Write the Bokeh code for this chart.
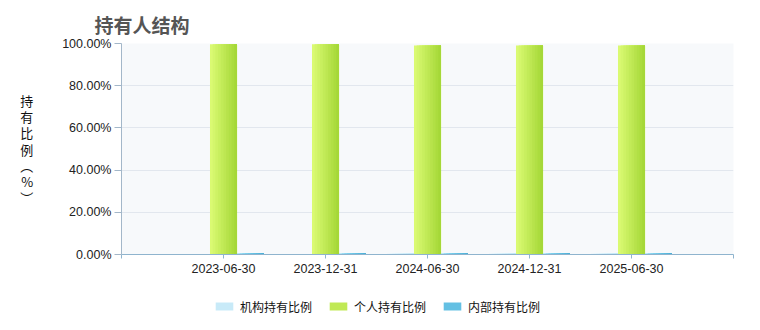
from bokeh.plotting import figure
from bokeh.layouts import column
from bokeh.models import (ColumnDataSource, Legend, LegendItem, FixedTicker,
                          PrintfTickFormatter, Range1d, Title)
from bokeh.embed import file_html
from bokeh.resources import INLINE
import numpy as np

# ---- data ----
dates = ["2023-06-30", "2023-12-31", "2024-06-30", "2024-12-31", "2025-06-30"]
inst_ratio = [0.2, 0.2, 0.4, 0.4, 0.4]          # 机构持有比例
indiv_ratio = [99.6, 99.6, 99.1, 99.1, 99.1]    # 个人持有比例
inner_ratio = [0.5, 0.5, 0.5, 0.5, 0.5]         # 内部持有比例
series_names = ["机构持有比例", "个人持有比例", "内部持有比例"]
y_ticks = [0, 20, 40, 60, 80, 100]

# ---- style ----
BAR_W = 0.265
N_STRIPS = 10
grad = {
    "inst": ("#dcf3fc", "#b3e2f4"),
    "indiv": ("#dafa72", "#a5d838"),
    "inner": ("#82d6f2", "#47abd4"),
}


def hex2rgb(h):
    h = h.lstrip("#")
    return np.array([int(h[i:i + 2], 16) for i in (0, 2, 4)], dtype=float)


def mid_color(colors):
    c = ((hex2rgb(colors[0]) + hex2rgb(colors[1])) / 2).round().astype(int)
    return "#%02x%02x%02x" % tuple(c)


def strip_source(values, offset, colors):
    c0, c1 = hex2rgb(colors[0]), hex2rgb(colors[1])
    left, right, top, bottom, fill = [], [], [], [], []
    xs = np.arange(1, len(values) + 1) + offset
    sw = BAR_W / N_STRIPS
    for xc, v in zip(xs, values):
        for k in range(N_STRIPS):
            t = k / (N_STRIPS - 1)
            c = (c0 * (1 - t) + c1 * t).round().astype(int)
            left.append(xc - BAR_W / 2 + k * sw)
            right.append(xc + BAR_W / 2)
            top.append(v)
            bottom.append(0)
            fill.append("#%02x%02x%02x" % tuple(c))
    return ColumnDataSource(dict(left=left, right=right, top=top, bottom=bottom, fill=fill))


p = figure(width=760, height=284, output_backend="svg", toolbar_location=None,
           x_range=Range1d(0, len(dates) + 1), y_range=Range1d(0, 100),
           min_border_left=121, min_border_right=27, min_border_top=43,
           min_border_bottom=30)
p.border_fill_color = "#ffffff"
p.outline_line_color = None
p.background_fill_color = "#f7f9fb"

keys = ["inst", "indiv", "inner"]
for key, vals, off in zip(keys, (inst_ratio, indiv_ratio, inner_ratio), (-BAR_W, 0.0, BAR_W)):
    src = strip_source(vals, off, grad[key])
    p.quad(left="left", right="right", top="top", bottom="bottom", source=src,
           fill_color="fill", line_color=None)

# title
p.title = Title(text="持有人结构", align="left", offset=-27,
                text_font="Noto Sans CJK SC", text_font_size="19px",
                text_font_style="bold", text_color="#555555", standoff=12)

# axes
tick_font = "Liberation Sans"
p.yaxis.ticker = FixedTicker(ticks=y_ticks)
p.yaxis.formatter = PrintfTickFormatter(format="%.2f%%")
p.yaxis.major_label_text_font = tick_font
p.yaxis.major_label_text_font_size = "12.5px"
p.yaxis.major_label_text_color = "#222222"
p.yaxis.axis_line_color = "#a3b7c9"
p.yaxis.major_tick_line_color = "#a3b7c9"
p.yaxis.major_tick_out = 7
p.yaxis.major_tick_in = 0
p.yaxis.minor_tick_line_color = None
p.yaxis.major_label_standoff = 3
p.yaxis.axis_label = "持\n有\n比\n例\n︵\n%\n︶"
p.yaxis.axis_label_orientation = "horizontal"
p.yaxis.axis_label_text_font = "Noto Sans CJK SC"
p.yaxis.axis_label_text_font_size = "13px"
p.yaxis.axis_label_text_font_style = "normal"
p.yaxis.axis_label_text_color = "#111111"
p.yaxis.axis_label_text_line_height = 0.85
p.yaxis.axis_label_standoff = 26

p.xaxis.ticker = FixedTicker(ticks=list(range(0, len(dates) + 2)))
p.xaxis.major_label_overrides = {i + 1: d for i, d in enumerate(dates)} | {0: "", len(dates) + 1: ""}
p.xaxis.major_label_text_font = tick_font
p.xaxis.major_label_text_font_size = "12.5px"
p.xaxis.major_label_text_color = "#222222"
p.xaxis.axis_line_color = "#8fb4ce"
p.xaxis.major_tick_line_color = "#8fb4ce"
p.xaxis.major_tick_out = 4
p.xaxis.major_tick_in = 0
p.xaxis.minor_tick_line_color = None
p.xaxis.major_label_standoff = 5

p.xgrid.grid_line_color = None
p.ygrid.ticker = FixedTicker(ticks=y_ticks)
p.ygrid.grid_line_color = "#e2e7ee"

# ---- legend strip (separate small figure below) ----
lg = figure(width=760, height=46, output_backend="svg", toolbar_location=None,
            x_range=Range1d(0, 1), y_range=Range1d(0, 1),
            min_border=0, outline_line_color=None)
lg.axis.visible = False
lg.grid.visible = False
lg.background_fill_color = "#ffffff"
lg.border_fill_color = "#ffffff"
legend_renderers = []
for k in keys:
    src = ColumnDataSource(dict(left=[np.nan], right=[np.nan], top=[np.nan],
                                bottom=[np.nan], fill=[mid_color(grad[k])]))
    legend_renderers.append(lg.quad(left="left", right="right", top="top", bottom="bottom",
                                    source=src, fill_color="fill", line_color=None))
items = [LegendItem(label=n, renderers=[r], index=0)
         for n, r in zip(series_names, legend_renderers)]
legend = Legend(items=items, orientation="horizontal", location=(92, 14),
                glyph_width=22, glyph_height=10, label_standoff=5, spacing=15,
                padding=0, margin=0, border_line_color=None,
                background_fill_alpha=0,
                label_text_font="Noto Sans CJK SC", label_text_font_size="12px",
                label_text_color="#111111", label_height=20)
lg.add_layout(legend, "center")

layout = column(p, lg, spacing=0)
open("out.html", "w").write(file_html(layout, INLINE))
